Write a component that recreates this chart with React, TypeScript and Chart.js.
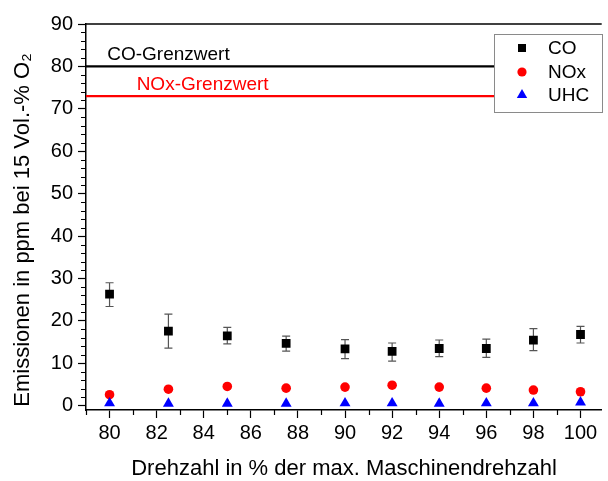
import React, { useEffect, useRef } from "react";
import { Chart, registerables } from "chart.js";

Chart.register(...registerables);

const SPEED = [80, 82.5, 85, 87.5, 90, 92, 94, 96, 98, 100];
const CO = [26.3, 17.6, 16.5, 14.7, 13.4, 12.8, 13.5, 13.5, 15.5, 16.8];
const CO_ERR_HIGH = [29.0, 21.6, 18.5, 16.4, 15.6, 14.8, 15.5, 15.7, 18.2, 18.7];
const CO_ERR_LOW = [23.4, 13.6, 14.6, 12.9, 11.1, 10.5, 11.6, 11.4, 13.0, 14.8];
const NOX = [2.6, 3.9, 4.55, 4.15, 4.4, 4.85, 4.4, 4.15, 3.7, 3.3];
const UHC = [0.6, 0.5, 0.5, 0.5, 0.6, 0.6, 0.5, 0.6, 0.6, 0.8];

const CO_LIMIT = 80;
const NOX_LIMIT = 73;

const X_MIN = 79;
const X_MAX = 100.9;
const Y_MIN = -1;
const Y_MAX = 90;
const X_TICKS = [80, 82, 84, 86, 88, 90, 92, 94, 96, 98, 100];
const X_MINOR = [79, 81, 83, 85, 87, 89, 91, 93, 95, 97, 99];
const Y_TICKS = [0, 10, 20, 30, 40, 50, 60, 70, 80, 90];
const Y_MINOR = [2, 4, 6, 8, 12, 14, 16, 18, 22, 24, 26, 28, 32, 34, 36, 38, 42, 44, 46, 48, 52, 54, 56, 58, 62, 64, 66, 68, 72, 74, 76, 78, 82, 84, 86, 88];

const LEGEND_LABELS = ["CO", "NOx", "UHC"];
const X_TITLE = "Drehzahl in % der max. Maschinendrehzahl";
const Y_TITLE = "Emissionen in ppm bei 15 Vol.-% O\u2082";
const CO_LIMIT_LABEL = "CO-Grenzwert";
const NOX_LIMIT_LABEL = "NOx-Grenzwert";

const FONT = "'Liberation Sans', Arial, sans-serif";

function drawMarker(ctx: CanvasRenderingContext2D, kind: string, x: number, y: number) {
  ctx.beginPath();
  if (kind === "rect") {
    ctx.fillStyle = "#000";
    ctx.rect(x - 4, y - 4, 8, 8);
  } else if (kind === "circle") {
    ctx.fillStyle = "#ff0000";
    ctx.arc(x, y, 4.6, 0, Math.PI * 2);
  } else {
    ctx.fillStyle = "#0000ff";
    const r = 6;
    ctx.moveTo(x, y - r);
    ctx.lineTo(x + r * 0.866, y + r * 0.5);
    ctx.lineTo(x - r * 0.866, y + r * 0.5);
    ctx.closePath();
  }
  ctx.fill();
}

const decorPlugin = {
  id: "decor",
  beforeDatasetsDraw(chart: any) {
    const ctx = chart.ctx as CanvasRenderingContext2D;
    const xs = chart.scales.x;
    const ys = chart.scales.y;
    ctx.save();
    ctx.strokeStyle = "#555";
    ctx.lineWidth = 1.2;
    SPEED.forEach((s, i) => {
      const px = xs.getPixelForValue(s);
      const top = ys.getPixelForValue(CO_ERR_HIGH[i]);
      const bot = ys.getPixelForValue(CO_ERR_LOW[i]);
      ctx.beginPath();
      ctx.moveTo(px, top);
      ctx.lineTo(px, bot);
      ctx.moveTo(px - 4, top);
      ctx.lineTo(px + 4, top);
      ctx.moveTo(px - 4, bot);
      ctx.lineTo(px + 4, bot);
      ctx.stroke();
    });
    ctx.restore();
  },
  afterDraw(chart: any) {
    const ctx = chart.ctx as CanvasRenderingContext2D;
    const xs = chart.scales.x;
    const ys = chart.scales.y;
    const area = chart.chartArea;
    ctx.save();
    // top border
    ctx.strokeStyle = "#000";
    ctx.lineWidth = 1.5;
    ctx.beginPath();
    ctx.moveTo(area.left, area.top);
    ctx.lineTo(area.right, area.top);
    ctx.stroke();
    // minor ticks
    ctx.lineWidth = 1.2;
    ctx.beginPath();
    X_MINOR.forEach((v) => {
      const px = Math.round(xs.getPixelForValue(v)) + 0.5;
      ctx.moveTo(px, area.bottom);
      ctx.lineTo(px, area.bottom + 5);
    });
    Y_MINOR.forEach((v) => {
      const py = Math.round(ys.getPixelForValue(v)) + 0.5;
      ctx.moveTo(area.left, py);
      ctx.lineTo(area.left - 5, py);
    });
    ctx.stroke();

    // limit labels
    ctx.font = `19px ${FONT}`;
    ctx.textAlign = "left";
    ctx.textBaseline = "alphabetic";
    ctx.fillStyle = "#000";
    ctx.fillText(CO_LIMIT_LABEL, xs.getPixelForValue(79.9), ys.getPixelForValue(CO_LIMIT) - 6);
    ctx.fillStyle = "#ff0000";
    ctx.fillText(NOX_LIMIT_LABEL, xs.getPixelForValue(81.15), ys.getPixelForValue(NOX_LIMIT) - 6);

    // axis titles
    ctx.fillStyle = "#000";
    ctx.font = `22px ${FONT}`;
    ctx.textAlign = "center";
    ctx.textBaseline = "middle";
    ctx.fillText(X_TITLE, 344, 469);
    ctx.save();
    ctx.translate(23, 230);
    ctx.rotate(-Math.PI / 2);
    ctx.fillText(Y_TITLE, 0, 0);
    ctx.restore();

    // legend
    const lx = 494.5, ly = 34.5, lw = 108, lh = 78;
    ctx.fillStyle = "#fff";
    ctx.fillRect(lx, ly, lw, lh);
    ctx.strokeStyle = "#8a8a8a";
    ctx.lineWidth = 1;
    ctx.strokeRect(lx, ly, lw, lh);
    const kinds = ["rect", "circle", "triangle"];
    const rowsY = [48, 72, 95];
    ctx.font = `19px ${FONT}`;
    ctx.textAlign = "left";
    ctx.textBaseline = "middle";
    LEGEND_LABELS.forEach((lab, i) => {
      drawMarker(ctx, kinds[i], 522, rowsY[i]);
      ctx.fillStyle = "#000";
      ctx.fillText(lab, 548, rowsY[i] + 1);
    });
    ctx.restore();
  },
};

export default function App() {
  const ref = useRef<HTMLCanvasElement | null>(null);
  useEffect(() => {
    if (!ref.current) return;
    const chart = new Chart(ref.current, {
      type: "scatter",
      data: {
        datasets: [
          {
            type: "line",
            label: "CO limit",
            data: [
              { x: X_MIN, y: CO_LIMIT },
              { x: X_MAX, y: CO_LIMIT },
            ],
            borderColor: "#000",
            borderWidth: 2.2,
            pointRadius: 0,
            order: 5,
          } as any,
          {
            type: "line",
            label: "NOx limit",
            data: [
              { x: X_MIN, y: NOX_LIMIT },
              { x: X_MAX, y: NOX_LIMIT },
            ],
            borderColor: "#ff0000",
            borderWidth: 2.2,
            pointRadius: 0,
            order: 5,
          } as any,
          {
            label: "UHC",
            data: SPEED.map((s, i) => ({ x: s, y: UHC[i] })),
            pointStyle: "triangle",
            pointRadius: 6.3,
            backgroundColor: "#0000ff",
            borderColor: "#0000ff",
            borderWidth: 0,
          },
          {
            label: "NOx",
            data: SPEED.map((s, i) => ({ x: s, y: NOX[i] })),
            pointStyle: "circle",
            pointRadius: 4.8,
            backgroundColor: "#ff0000",
            borderColor: "#ff0000",
            borderWidth: 0,
          },
          {
            label: "CO",
            data: SPEED.map((s, i) => ({ x: s, y: CO[i] })),
            pointStyle: "rect",
            pointRadius: 6.2,
            backgroundColor: "#000",
            borderColor: "#000",
            borderWidth: 0,
          },
        ],
      },
      options: {
        animation: false,
        responsive: false,
        layout: { padding: { top: 24, right: 0, left: 0, bottom: 0 } },
        plugins: {
          legend: { display: false },
          tooltip: { enabled: false },
        },
        scales: {
          x: {
            type: "linear",
            min: X_MIN,
            max: X_MAX,
            afterBuildTicks: (s: any) => {
              s.ticks = X_TICKS.map((v) => ({ value: v }));
            },
            afterFit: (s: any) => {
              s.height = 71;
            },
            grid: { drawOnChartArea: false, tickLength: 8, tickColor: "#000", tickWidth: 1.2 },
            border: { color: "#000", width: 1.5 },
            ticks: {
              color: "#000",
              font: { family: FONT, size: 20 },
              padding: 3,
              maxRotation: 0,
              autoSkip: false,
            },
          },
          y: {
            type: "linear",
            min: Y_MIN,
            max: Y_MAX,
            afterBuildTicks: (s: any) => {
              s.ticks = Y_TICKS.map((v) => ({ value: v }));
            },
            afterFit: (s: any) => {
              s.width = 86;
            },
            grid: { drawOnChartArea: false, tickLength: 8, tickColor: "#000", tickWidth: 1.2 },
            border: { color: "#000", width: 1.5 },
            ticks: {
              color: "#000",
              font: { family: FONT, size: 20 },
              padding: 5,
              autoSkip: false,
            },
          },
        },
      },
      plugins: [decorPlugin],
    });
    return () => chart.destroy();
  }, []);
  return (
    <div style={{ position: "absolute", left: 0, top: 0, width: 608, height: 481, background: "#fff" }}>
      <canvas ref={ref} width={608} height={481} style={{ display: "block" }} />
    </div>
  );
}
